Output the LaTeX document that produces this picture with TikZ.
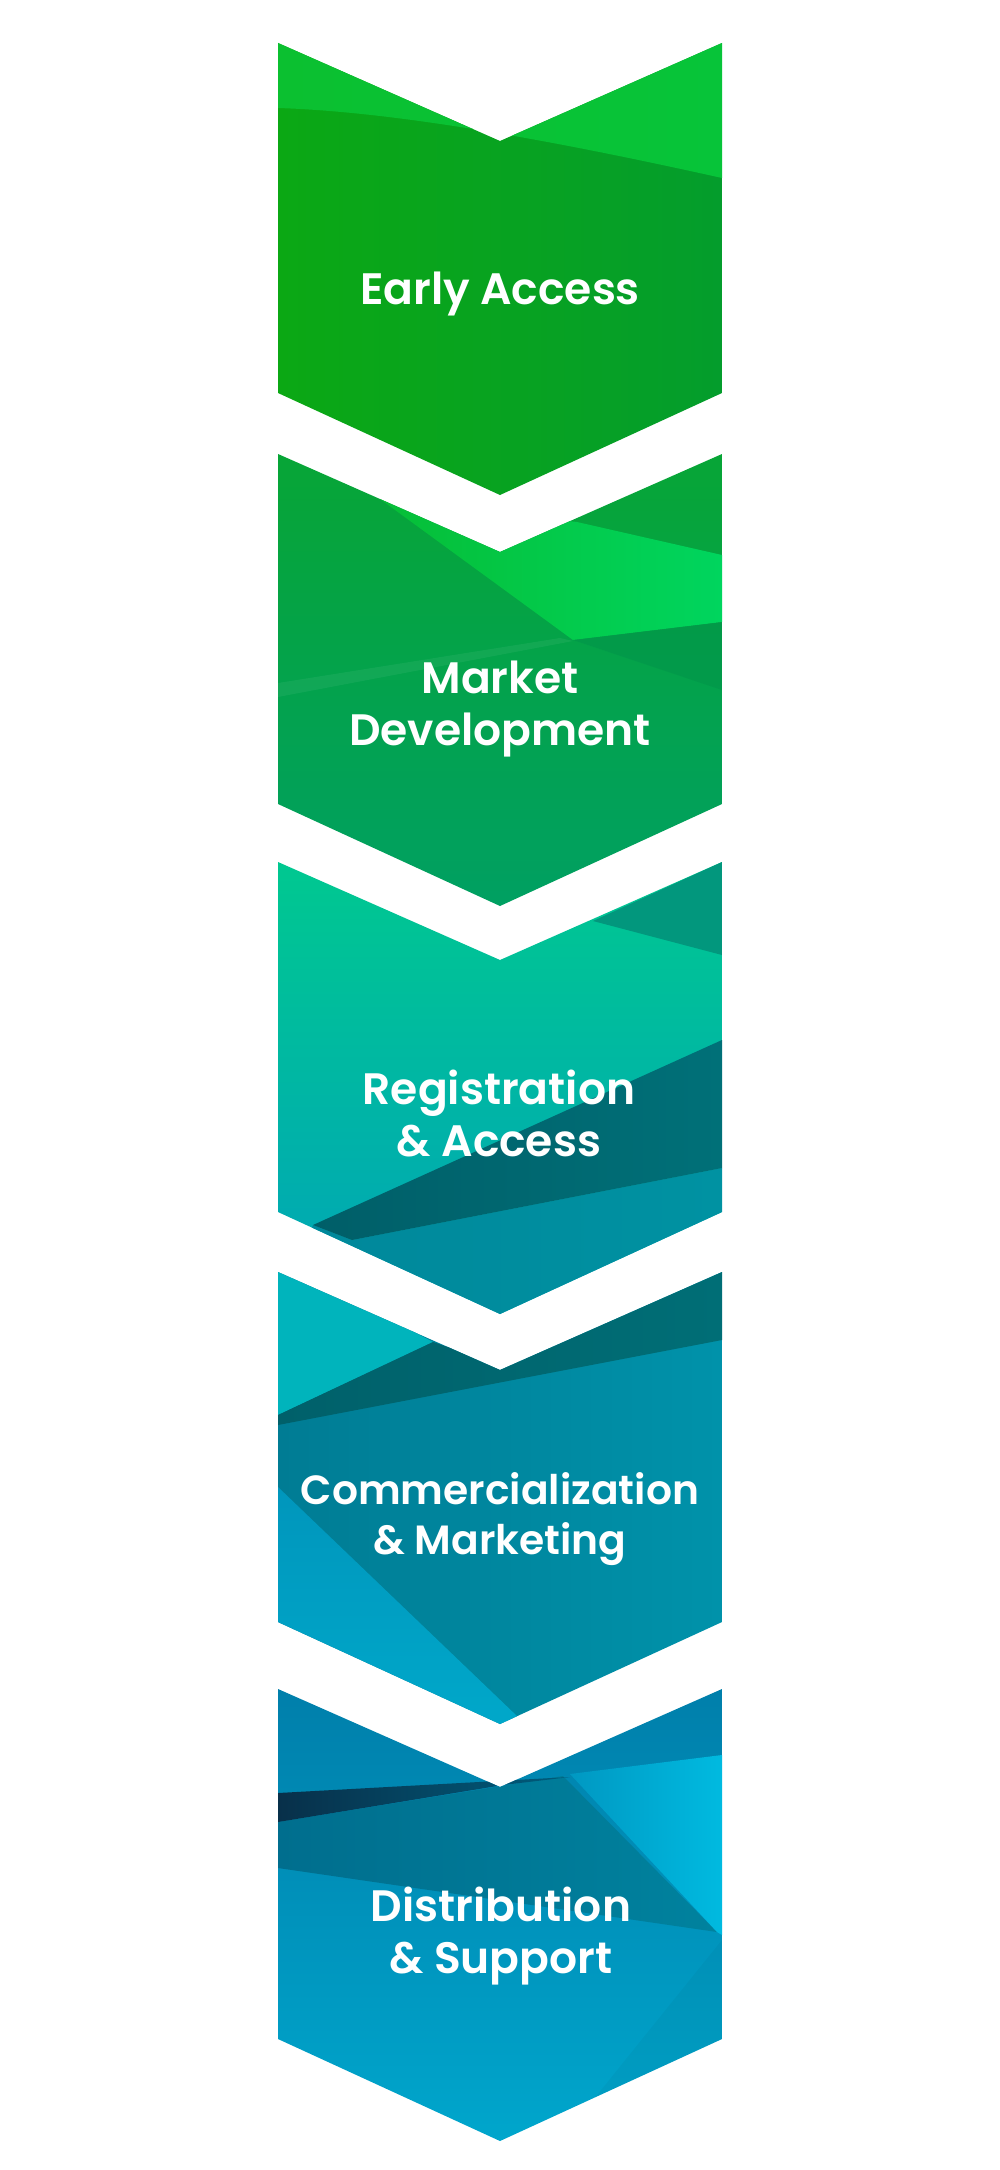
\documentclass[tikz,border=0pt]{standalone}
\usepackage{fontspec}
\newfontfamily\popfont{Poppins SemiBold}
\definecolor{gA}{HTML}{0BA814}
\definecolor{gB}{HTML}{049D2C}
\definecolor{gTop}{HTML}{0BC030}
\definecolor{gTopR}{HTML}{07C439}
\definecolor{mA}{HTML}{07A536}
\definecolor{mB}{HTML}{00A062}
\definecolor{mLit}{HTML}{06BE36}
\definecolor{mLitR}{HTML}{00D55E}
\definecolor{mDk}{HTML}{02954A}
\definecolor{rTop}{HTML}{00C890}
\definecolor{rMid}{HTML}{00CECC}
\definecolor{rBot}{HTML}{00A4B8}
\definecolor{rCorner}{HTML}{02977D}
\definecolor{rBandL}{HTML}{005E68}
\definecolor{rBandR}{HTML}{007078}
\definecolor{rLowL}{HTML}{00879A}
\definecolor{rLowR}{HTML}{0092A2}
\definecolor{cA}{HTML}{007C94}
\definecolor{cB}{HTML}{0092AA}
\definecolor{cTri}{HTML}{00B4BC}
\definecolor{cBandL}{HTML}{00606A}
\definecolor{cBandR}{HTML}{006E76}
\definecolor{cLitT}{HTML}{0096BC}
\definecolor{cLitB}{HTML}{00A8CA}
\definecolor{dTop}{HTML}{007FAB}
\definecolor{dBot}{HTML}{00A6CC}
\definecolor{dStrL}{HTML}{08304A}
\definecolor{dStrR}{HTML}{005C7C}
\definecolor{dMidL}{HTML}{006E8E}
\definecolor{dMidR}{HTML}{00829E}
\definecolor{dCyL}{HTML}{0098C2}
\definecolor{dCyR}{HTML}{00BAE0}
\newcommand{\chev}[1]{(278,#1) -- (500,#1+98) -- (722,#1) -- (722,#1+350) -- (500,#1+452) -- (278,#1+350) -- cycle}
\tikzset{
  lbl/.style={text=white,align=center,inner sep=0pt,font=\popfont\fontsize{44}{52}\selectfont},
  lblsm/.style={lbl,font=\popfont\fontsize{40.8}{50}\selectfont},
}
\begin{document}
\begin{tikzpicture}[x=1pt,y=-1pt]
\fill[white] (0,0) rectangle (1000,2170);
\useasboundingbox (0,0) rectangle (1000,2170);
% early access
\begin{scope}
\clip \chev{43};
\shade[left color=gA,right color=gB] (278,43) rectangle (722,495);
\shade[left color=gTop,right color=gTopR] (278,43) -- (722,43) -- (722,178)
  .. controls (560,142) and (400,112) .. (278,108) -- cycle;
\end{scope}
% market development
\begin{scope}
\clip \chev{454};
\shade[top color=mA,bottom color=mB] (278,454) rectangle (722,906);
\shade[left color=mLit,right color=mLitR] (380,499) -- (577,522) -- (722,555) -- (722,622) -- (573,640) -- cycle;
\fill[mDk,opacity=.6] (573,640) -- (722,622) -- (722,690) -- cycle;
\fill[white,opacity=.06] (278,683) -- (560,638) -- (573,641) -- (278,697) -- cycle;
\end{scope}
% registration
\begin{scope}
\clip \chev{862};
\shade[top color=rTop,middle color=rMid,bottom color=rBot] (278,862) rectangle (722,1314);
\fill[rCorner] (593,921) -- (722,955) -- (722,862) -- cycle;
\shade[left color=rLowL,right color=rLowR] (313,1225) -- (352,1240) -- (722,1168) -- (722,1320) -- (278,1320) -- cycle;
\shade[left color=rBandL,right color=rBandR] (313,1225) -- (722,1040) -- (722,1168) -- (352,1240) -- cycle;
\end{scope}
% commercialization
\begin{scope}
\clip \chev{1272};
\shade[left color=cA,right color=cB] (278,1272) rectangle (722,1724);
\fill[cTri] (278,1260) -- (433,1342) -- (278,1415) -- cycle;
\shade[left color=cBandL,right color=cBandR] (278,1415) -- (433,1342) -- (500,1365) -- (722,1260)
  -- (722,1340) -- (278,1425) -- cycle;
\shade[top color=cLitT,bottom color=cLitB] (278,1487) -- (518,1717) -- (518,1730) -- (278,1730) -- cycle;
\end{scope}
% distribution
\begin{scope}
\clip \chev{1689};
\shade[top color=dTop,bottom color=dBot] (278,1689) rectangle (722,2141);
\shade[left color=dMidL,right color=dMidR] (278,1822) -- (563,1776) -- (717,1932) -- (278,1868) -- cycle;
\shade[left color=dStrL,right color=dStrR] (278,1793) -- (570,1777) -- (503,1785) -- (278,1822) -- cycle;
\shade[left color=dCyL,right color=dCyR] (570,1774) -- (722,1755) -- (722,1935) -- (717,1932) -- cycle;
\fill[black,opacity=.03] (722,1940) -- (722,2060) -- (560,2141) -- cycle;
\end{scope}
% labels (base = last line)
\node[lbl,anchor=base] (early) at (500,304) {Early Access};
\node[lbl,anchor=base] (market) at (500,745) {Market\\Development};
\node[lbl,anchor=base] (regis) at (499,1156) {Registration\\\& Access};
\node[lblsm,anchor=base] (comm) at (500,1554) {Commercialization\\\& Marketing};
\node[lbl,anchor=base] (distr) at (501,1973) {Distribution\\\& Support};
\end{tikzpicture}
\end{document}
